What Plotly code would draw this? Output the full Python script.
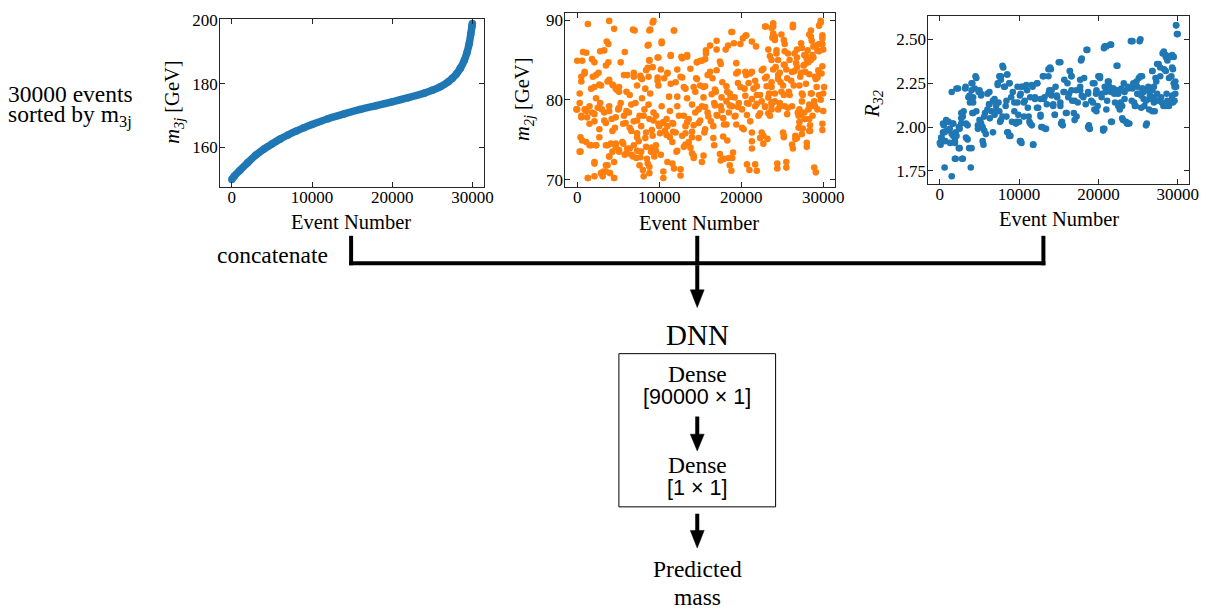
import numpy as np
import plotly.graph_objects as go

W, H = 1222, 611

# ---------------- data ----------------
# sorted three-jet mass curve (event number in thousands, GeV)
m3j_event_k = [0, 0.3, 1, 2, 3, 4, 5, 6, 7, 8, 9, 10, 12, 14, 16, 18, 20, 22, 24, 25,
               26, 27, 27.5, 28, 28.5, 29, 29.3, 29.6, 29.8, 29.95, 30]
m3j_value = [150.0, 151.0, 152.8, 155.3, 157.6, 159.5, 161.1, 162.6, 163.9, 165.1, 166.2,
             167.2, 169.0, 170.5, 171.9, 173.1, 174.3, 175.6, 177.0, 177.9, 179.0, 180.6,
             181.7, 183.0, 184.8, 187.3, 189.5, 192.5, 195.5, 198.0, 198.8]

# two-jet mass per event (event number in thousands, GeV)
m2j_points = [
    (1.3, 89.5), (3.9, 89.9), (4.5, 88.9), (7.0, 88.7), (8.9, 88.8), (9.3, 89.9), (11.8, 88.7),
    (8.7, 86.9), (10.3, 87.3), (3.6, 87.3), (3.8, 87.0), (0.7, 86.0), (1.1, 85.9), (0.6, 84.9),
    (0.0, 84.9), (2.8, 86.1), (3.3, 86.2), (5.8, 86.0), (5.3, 84.7), (1.8, 85.1), (2.1, 84.7),
    (3.5, 84.3), (3.8, 84.7), (8.8, 85.0), (9.8, 85.3), (11.4, 85.6), (12.7, 85.4), (13.4, 85.6),
    (14.6, 84.7), (15.2, 84.9), (15.7, 85.8), (17.0, 86.3), (18.1, 86.3), (18.9, 88.5),
    (19.1, 87.1), (20.2, 87.7), (20.6, 88.1), (21.8, 86.7), (22.9, 89.2), (23.9, 89.2),
    (23.8, 87.8), (24.1, 87.5), (23.3, 86.3), (23.5, 85.5), (25.2, 87.5), (26.3, 89.1),
    (24.3, 85.8), (25.3, 86.1), (26.8, 86.3), (27.4, 86.5), (28.3, 88.2), (28.6, 87.4),
    (28.8, 86.7), (29.7, 89.7), (29.9, 87.7), (30.0, 86.3), (29.5, 86.1), (27.9, 85.5),
    (28.0, 85.1), (26.8, 85.3),
    (0.5, 82.9), (0.9, 83.5), (1.9, 82.9), (2.1, 81.6), (2.9, 81.8), (3.9, 82.5), (4.4, 81.8),
    (4.9, 81.2), (5.1, 81.6), (5.7, 83.1), (6.1, 83.1), (6.9, 82.9), (7.8, 82.7), (8.4, 83.7),
    (8.7, 82.9), (9.2, 84.1), (9.8, 82.4), (10.2, 83.8), (10.6, 82.7), (11.0, 83.3), (11.4, 82.0),
    (12.0, 82.2), (12.6, 82.9), (13.2, 81.4), (13.8, 83.9), (14.2, 81.6), (14.5, 82.7),
    (15.4, 81.6), (15.9, 83.1), (16.5, 82.7), (16.9, 81.0), (17.5, 84.5), (17.7, 82.2),
    (18.3, 81.0), (18.7, 80.4), (19.4, 83.3), (19.9, 81.6), (20.4, 81.4), (20.6, 83.1),
    (21.1, 83.3), (21.5, 81.4), (21.9, 80.6), (22.5, 83.7), (22.9, 82.7), (23.4, 80.8),
    (23.7, 81.6), (24.2, 84.1), (24.5, 83.1), (24.8, 82.2), (25.2, 84.4), (25.6, 82.7),
    (25.8, 81.0), (26.2, 83.5), (26.4, 81.8), (26.8, 84.1), (27.2, 82.9), (27.6, 84.3),
    (27.8, 83.5), (28.2, 84.7), (28.8, 85.3), (29.0, 82.9), (29.4, 83.7), (29.8, 83.3),
    (29.2, 81.6), (30.0, 80.8), (27.4, 80.8), (28.6, 80.8), (25.2, 80.6),
    (0.0, 78.8), (0.3, 79.6), (0.5, 78.0), (0.9, 78.8), (1.2, 77.8), (1.5, 79.2), (1.8, 78.4),
    (2.1, 77.3), (2.3, 80.2), (2.8, 79.6), (3.0, 78.8), (3.3, 78.4), (3.5, 77.1), (3.9, 79.2),
    (4.2, 77.6), (4.6, 76.5), (5.0, 78.8), (5.3, 79.6), (5.7, 78.0), (5.9, 77.1), (6.3, 78.4),
    (6.6, 76.1), (6.9, 77.3), (7.3, 75.3), (7.6, 78.0), (7.8, 76.7), (8.2, 78.8), (8.4, 75.9),
    (8.8, 77.6), (9.2, 75.5), (9.6, 78.0), (10.0, 76.7), (10.4, 77.1), (10.7, 76.1), (11.0, 76.7),
    (11.3, 75.3), (11.6, 77.1), (12.0, 75.9), (12.4, 78.0), (12.8, 75.5), (13.2, 76.7),
    (13.6, 77.6), (14.0, 75.3), (14.4, 78.4), (14.8, 77.1), (15.2, 79.2), (15.5, 75.9),
    (15.9, 78.4), (16.3, 77.3), (16.7, 79.6), (17.1, 78.0), (17.5, 79.2), (17.9, 76.9),
    (18.2, 79.8), (18.5, 78.4), (18.9, 79.2), (19.3, 78.0), (19.7, 79.6), (20.1, 78.8),
    (20.3, 76.3), (20.7, 79.6), (21.1, 77.3), (21.3, 75.9), (21.7, 79.2), (22.1, 78.0),
    (22.5, 79.8), (22.9, 79.2), (23.5, 78.0), (24.1, 79.8), (24.5, 78.8), (24.7, 79.6),
    (25.6, 78.2), (26.2, 79.2), (27.0, 78.0), (27.4, 79.8), (27.8, 77.6), (28.2, 78.8),
    (28.4, 76.1), (28.7, 78.0), (29.0, 79.2), (29.3, 78.8), (30.0, 78.6), (29.9, 76.2),
    (27.0, 76.5), (27.4, 75.7), (26.6, 75.1), (25.2, 75.5), (23.2, 75.1), (22.7, 75.5),
    (18.3, 74.9),
    (0.4, 73.5), (0.6, 74.9), (1.1, 74.7), (1.5, 74.3), (1.3, 70.2), (2.1, 72.2), (2.1, 70.4),
    (2.3, 74.3), (3.1, 70.4), (3.2, 71.0), (3.5, 71.8), (3.7, 74.3), (3.9, 72.9), (4.0, 70.8),
    (4.3, 73.5), (4.5, 70.2), (4.7, 74.5), (5.1, 73.5), (5.5, 74.7), (5.8, 73.1), (6.1, 73.9),
    (6.6, 73.1), (6.9, 74.3), (7.2, 72.7), (7.6, 71.8), (7.8, 73.5), (8.1, 70.4), (8.4, 74.1),
    (8.6, 72.0), (8.8, 70.8), (9.0, 73.5), (9.4, 72.9), (9.6, 74.3), (10.2, 73.1), (10.5, 70.2),
    (11.0, 72.2), (11.6, 74.7), (11.8, 71.4), (12.1, 73.5), (12.6, 70.5), (13.0, 74.1),
    (13.6, 74.7), (14.0, 73.3), (14.2, 72.7), (15.2, 72.2), (16.7, 74.3), (17.5, 72.4),
    (17.9, 72.6), (18.5, 72.7), (18.9, 72.7), (18.8, 71.1), (21.0, 71.2), (21.9, 71.1),
    (21.3, 73.9), (22.7, 74.5), (24.4, 71.4), (25.5, 71.5), (25.2, 75.3), (26.3, 73.9),
    (26.8, 75.2), (28.0, 74.1), (29.1, 70.9), (28.3, 76.1),
    (0.9, 83.3), (2.6, 83.4), (2.3, 83.1), (0.5, 82.3), (1.7, 81.4), (2.7, 81.9), (3.7, 82.3),
    (4.3, 81.9), (4.7, 81.4), (5.1, 81.0), (0.3, 80.8), (6.0, 81.0), (6.4, 80.6), (6.8, 88.8),
    (-0.1, 78.8), (0.5, 77.8), (1.1, 78.6), (1.5, 77.0), (2.1, 78.2), (2.5, 79.0), (2.7, 76.3),
    (3.3, 77.4), (3.9, 78.6), (4.3, 76.1), (4.7, 77.8), (5.1, 79.0), (5.6, 77.0), (6.0, 78.6),
    (6.4, 76.5), (6.6, 79.4), (0.4, 75.3), (0.3, 73.5), (1.7, 74.3), (2.3, 74.3), (2.7, 75.3),
    (3.5, 74.3), (4.1, 74.5), (4.7, 74.1), (5.1, 73.7), (5.6, 74.5), (6.0, 73.3), (6.4, 73.9),
    (6.8, 72.9), (3.9, 72.9), (4.5, 72.2), (3.7, 71.8), (2.1, 72.0), (2.9, 70.8), (3.5, 71.0),
    (1.3, 70.2), (4.5, 70.2),
    (9.2, 89.7), (8.8, 88.7), (11.8, 88.7), (8.6, 86.8), (10.3, 87.1), (8.8, 84.9), (9.9, 85.3),
    (11.4, 85.5), (12.8, 85.2), (13.4, 85.4), (14.6, 84.7), (15.0, 84.9), (6.9, 83.4),
    (7.7, 83.0), (7.9, 82.6), (8.6, 84.0), (9.8, 82.8), (11.0, 83.4), (12.2, 83.8), (12.8, 82.8),
    (14.6, 82.6), (7.3, 81.8), (8.3, 81.4), (8.9, 80.8), (9.9, 81.8), (11.2, 80.4), (12.2, 80.4),
    (13.0, 81.6), (13.4, 80.2), (14.4, 81.0), (15.0, 81.8), (7.1, 79.6), (7.9, 80.2), (8.7, 79.4),
    (9.3, 78.4), (10.3, 79.2), (11.3, 78.6), (12.2, 79.2), (13.0, 78.0), (14.0, 79.4),
    (14.8, 78.8), (7.3, 77.4), (8.1, 78.0), (9.3, 77.4), (9.9, 77.0), (10.5, 77.2), (10.9, 77.6),
    (11.7, 77.0), (13.4, 77.2), (14.2, 76.8), (15.0, 77.4), (7.3, 75.8), (9.1, 76.2),
    (10.1, 75.8), (10.9, 75.6), (11.7, 76.0), (13.2, 75.8), (14.0, 76.0), (14.8, 75.2),
    (7.5, 74.8), (8.3, 75.2), (9.1, 74.0), (7.3, 73.6), (7.7, 72.8), (8.5, 72.6), (9.6, 73.6),
    (12.2, 73.6), (13.2, 74.4), (13.8, 74.0), (14.2, 73.0), (11.6, 72.0), (12.6, 71.3),
    (8.0, 71.2), (8.8, 71.6), (10.5, 71.0),
    (18.8, 88.5), (20.5, 88.0), (23.0, 89.2), (23.7, 89.0), (16.2, 86.8), (17.0, 87.4),
    (18.4, 86.8), (19.9, 87.0), (21.3, 87.3), (15.7, 86.2), (15.6, 85.1), (17.4, 84.8),
    (19.4, 84.6), (16.2, 83.5), (17.0, 83.7), (19.6, 83.5), (20.5, 83.5), (21.3, 83.5),
    (21.7, 82.4), (22.7, 83.9), (23.1, 82.9), (23.7, 85.0), (15.6, 81.7), (16.8, 81.3),
    (18.2, 81.7), (19.6, 82.1), (20.9, 82.1), (21.9, 81.7), (23.1, 81.7), (15.4, 80.3),
    (16.4, 80.7), (17.6, 80.3), (18.6, 80.8), (19.2, 80.3), (20.5, 80.5), (21.3, 80.1),
    (22.3, 80.6), (23.3, 80.3), (15.6, 79.1), (16.8, 79.3), (17.6, 78.7), (18.6, 79.3),
    (19.6, 79.1), (20.9, 79.5), (21.9, 79.5), (22.9, 79.1), (23.7, 79.7), (16.0, 77.9),
    (17.0, 78.1), (17.8, 77.7), (19.2, 77.9), (20.7, 78.1), (22.3, 78.3), (23.3, 78.3),
    (15.6, 76.3), (16.6, 76.7), (18.2, 76.9), (19.4, 76.9), (20.1, 76.5), (22.5, 75.9),
    (22.3, 75.2), (16.6, 75.2), (17.8, 75.4), (21.3, 74.8), (15.4, 73.0), (17.4, 73.2),
    (19.0, 73.4), (18.6, 71.8), (20.7, 71.9), (21.7, 71.9),
    (23.9, 89.6), (26.3, 89.4), (29.7, 89.9), (29.5, 89.3), (28.5, 88.7), (29.9, 88.1),
    (23.9, 88.3), (24.1, 87.9), (24.9, 88.2), (25.3, 87.0), (27.3, 87.1), (28.5, 87.9),
    (29.1, 86.8), (29.5, 87.0), (24.3, 86.2), (25.7, 85.8), (26.5, 85.8), (28.1, 86.2),
    (27.7, 85.6), (28.7, 85.6), (29.3, 86.2), (29.9, 87.0), (24.5, 85.0), (25.3, 84.4),
    (25.9, 85.0), (26.7, 84.6), (27.7, 84.4), (28.5, 85.0), (23.9, 83.8), (24.7, 83.4),
    (25.5, 83.8), (26.5, 83.6), (27.3, 83.4), (28.3, 83.2), (29.5, 83.4), (29.9, 84.2),
    (29.3, 82.8), (23.7, 82.2), (24.5, 82.6), (25.1, 81.8), (26.1, 82.4), (27.1, 81.8),
    (27.9, 82.0), (29.1, 82.6), (30.1, 81.6), (24.1, 80.8), (24.9, 81.0), (25.9, 80.6),
    (27.5, 80.6), (28.5, 80.8), (29.5, 80.6), (23.7, 79.4), (24.7, 79.2), (25.7, 79.0),
    (28.3, 79.4), (28.9, 79.8), (29.7, 80.0), (23.7, 78.8), (25.3, 79.2), (27.1, 78.8),
    (27.7, 78.4), (28.5, 79.2), (26.9, 78.4), (27.3, 78.2), (27.7, 77.6), (28.3, 77.6),
    (27.1, 77.2), (27.5, 76.4), (28.4, 76.8), (29.9, 77.0), (25.1, 75.9), (26.6, 75.5),
    (26.2, 74.4), (28.0, 74.6), (24.4, 72.0), (25.5, 72.2), (28.9, 71.5),
]

# three-to-two jet ratio per event (event number in thousands)
r32_points = [
    (0.1, 1.90), (0.2, 1.94), (0.4, 1.97), (0.5, 2.01), (0.7, 1.92), (0.6, 1.77), (0.9, 1.98),
    (1.1, 2.03), (1.3, 1.91), (1.5, 1.72), (1.5, 2.20), (1.6, 2.02), (1.7, 1.95), (1.9, 1.91),
    (2.0, 1.82), (2.0, 1.97), (2.3, 2.22), (2.4, 2.00), (2.5, 1.88), (2.7, 2.05), (2.9, 1.82),
    (3.0, 2.09), (3.2, 2.22), (3.3, 2.02), (3.5, 1.93), (3.6, 2.17), (3.7, 1.88), (3.8, 2.14),
    (3.9, 1.77), (4.0, 2.25), (4.1, 2.08), (4.2, 2.17), (4.4, 2.22), (4.5, 2.29), (4.8, 2.01),
    (4.9, 2.20), (5.1, 2.04), (5.2, 2.18), (5.5, 1.90), (5.7, 2.08), (5.8, 1.96), (6.0, 2.19),
    (6.2, 2.13), (6.3, 2.05), (6.5, 2.09), (6.7, 1.97), (6.9, 2.16), (7.0, 2.09), (7.3, 2.25),
    (7.4, 2.14), (7.6, 2.03), (7.7, 2.29), (7.9, 2.06), (8.0, 2.34), (8.1, 2.23), (8.3, 2.12),
    (8.4, 2.06), (8.5, 2.30), (8.6, 1.97), (8.8, 2.25), (8.9, 1.95), (9.1, 2.03), (9.2, 2.20),
    (9.4, 2.09), (9.6, 2.02), (9.8, 2.14), (10.1, 2.18), (10.3, 1.91), (10.3, 2.23), (10.6, 2.06),
    (10.7, 2.15), (10.9, 2.24), (11.1, 2.11), (11.3, 2.03), (11.4, 2.17), (11.6, 2.01),
    (11.7, 2.23), (11.8, 1.90), (12.0, 2.16), (12.3, 2.25), (12.4, 2.11), (12.7, 2.06),
    (12.8, 2.00), (13.0, 2.29), (13.2, 2.17), (13.4, 1.99), (13.5, 2.13), (13.7, 2.33),
    (13.8, 2.21), (14.0, 2.33), (14.1, 2.18), (14.3, 2.12), (14.5, 2.07), (14.6, 2.23),
    (14.8, 2.17), (15.0, 2.37), (15.2, 2.14), (15.3, 2.02), (15.5, 2.01), (15.7, 2.27),
    (15.7, 2.20), (15.9, 2.08), (16.1, 2.25), (16.3, 2.19), (16.4, 2.32), (16.6, 2.29),
    (16.7, 2.15), (16.9, 2.08), (17.0, 2.04), (17.2, 2.21), (17.4, 2.14), (17.7, 2.23),
    (17.8, 2.38), (17.9, 2.18), (18.2, 2.28), (18.4, 2.13), (18.6, 2.44), (18.7, 2.20),
    (18.8, 2.01), (18.9, 1.99), (19.1, 2.15), (19.3, 2.25), (19.5, 2.10), (19.7, 2.19),
    (19.9, 2.12), (20.0, 2.29), (20.2, 2.28), (20.4, 2.17), (20.6, 1.98), (20.7, 2.45),
    (20.9, 2.20), (21.1, 2.15), (21.3, 2.26), (21.5, 2.47), (21.6, 2.20), (21.7, 2.03),
    (21.9, 2.22), (22.1, 2.14), (22.3, 2.35), (22.5, 2.19), (22.7, 2.10), (22.9, 2.22),
    (23.1, 2.04), (23.2, 2.25), (23.3, 2.16), (23.6, 2.02), (23.8, 2.22), (23.9, 2.02),
    (24.1, 2.49), (24.2, 2.15), (24.4, 2.25), (24.6, 2.12), (24.8, 2.26), (25.0, 2.19),
    (25.2, 2.49), (25.3, 2.29), (25.6, 2.22), (25.7, 2.16), (25.8, 2.12), (26.0, 2.01),
    (26.3, 2.23), (26.5, 2.18), (26.7, 2.22), (26.8, 2.32), (27.0, 2.14), (27.1, 2.09),
    (27.3, 2.26), (27.5, 2.15), (27.6, 2.36), (27.8, 2.29), (27.9, 2.17), (28.1, 2.42),
    (28.2, 2.12), (28.3, 2.33), (28.5, 2.41), (28.6, 2.19), (28.7, 2.38), (28.9, 2.12),
    (29.0, 2.40), (29.2, 2.29), (29.3, 2.18), (29.4, 2.33), (29.5, 2.40), (29.6, 2.15),
    (29.7, 2.26), (29.8, 2.23), (29.8, 2.58), (30.0, 2.53),
    (0.0, 1.91), (0.2, 1.94), (0.6, 1.97), (0.4, 2.02), (0.8, 2.04), (1.25, 1.99), (1.5, 1.96),
    (1.7, 2.02), (1.9, 1.92), (2.1, 1.95), (2.5, 1.99), (2.7, 2.02), (2.9, 2.06), (2.4, 1.88),
    (1.9, 1.82), (2.8, 1.82), (2.1, 2.22), (3.25, 2.23), (2.7, 2.08), (3.3, 1.94), (4.0, 1.88),
    (3.5, 2.01), (3.75, 2.18), (4.1, 2.25), (4.6, 2.28), (4.2, 2.14), (4.0, 2.21), (5.0, 2.21),
    (5.2, 2.19), (4.6, 2.09), (4.2, 2.08), (5.0, 2.04), (5.2, 2.02), (4.8, 1.99), (5.4, 2.00),
    (5.6, 2.06), (5.4, 1.92), (6.0, 2.10), (6.25, 2.20), (6.25, 2.13), (6.7, 2.15), (7.1, 2.12),
    (6.9, 2.07), (7.5, 2.09), (7.3, 2.24), (7.5, 2.29), (7.9, 2.35), (7.7, 2.27), (8.5, 2.30),
    (8.75, 2.25), (8.2, 2.23), (8.4, 2.15), (7.7, 2.04), (8.5, 1.97), (8.75, 1.95), (9.0, 2.17),
    (9.4, 2.14), (9.7, 2.03), (9.9, 2.07), (10.1, 1.92), (9.8, 2.23), (5.6, 1.98),
    (10.2, 1.92), (11.75, 1.90), (10.0, 2.03), (11.4, 2.02), (11.2, 2.06), (12.9, 2.00),
    (13.3, 1.99), (12.7, 2.07), (12.25, 2.11), (10.6, 2.14), (10.2, 2.19), (11.0, 2.21),
    (10.4, 2.23), (11.6, 2.24), (12.25, 2.25), (12.0, 2.17), (13.1, 2.16), (13.7, 2.19),
    (14.1, 2.21), (14.75, 2.18), (14.3, 2.13), (15.2, 2.12), (15.6, 2.20), (16.2, 2.17),
    (16.6, 2.21), (17.0, 2.15), (17.7, 2.21), (18.1, 2.17), (18.7, 2.19), (19.3, 2.14),
    (19.75, 2.21), (20.4, 2.19), (20.8, 2.23), (13.1, 2.29), (13.7, 2.29), (13.9, 2.34),
    (15.2, 2.37), (16.4, 2.32), (16.6, 2.29), (17.7, 2.27), (17.9, 2.39), (18.5, 2.44),
    (19.5, 2.25), (20.2, 2.29), (20.8, 2.46), (14.5, 2.07), (15.4, 2.03), (16.0, 2.08),
    (17.25, 2.06), (18.7, 2.00), (18.9, 1.99), (19.75, 2.09), (20.6, 1.99), (12.7, 2.16),
    (29.8, 2.58), (29.9, 2.53), (24.3, 2.49), (25.3, 2.50), (21.0, 2.46), (21.6, 2.47),
    (22.4, 2.35), (28.25, 2.43), (28.5, 2.40), (28.9, 2.40), (29.3, 2.41), (27.4, 2.36),
    (27.8, 2.34), (28.5, 2.32), (29.3, 2.34), (28.9, 2.28), (29.5, 2.25), (29.6, 2.23),
    (29.7, 2.19), (26.8, 2.32), (25.1, 2.28), (25.5, 2.29), (27.2, 2.28), (27.0, 2.23),
    (21.2, 2.26), (21.4, 2.23), (21.8, 2.22), (22.4, 2.21), (23.0, 2.21), (23.7, 2.23),
    (24.3, 2.22), (24.9, 2.23), (25.5, 2.22), (26.2, 2.21), (26.8, 2.21), (27.4, 2.19),
    (21.0, 2.21), (22.0, 2.19), (23.3, 2.20), (24.9, 2.19), (25.7, 2.20), (26.4, 2.16),
    (27.0, 2.17), (28.0, 2.14), (28.7, 2.15), (29.3, 2.16), (29.4, 2.14), (28.5, 2.12),
    (22.8, 2.14), (23.0, 2.12), (24.5, 2.14), (24.7, 2.12), (25.4, 2.18), (26.0, 2.15),
    (26.4, 2.10), (26.8, 2.09), (21.0, 2.10), (22.5, 2.12), (25.4, 2.11), (21.6, 2.03),
    (23.0, 2.05), (23.5, 2.03), (23.7, 2.02), (26.1, 2.02), (20.75, 1.99),
]

x_ticks = [0, 10000, 20000, 30000]
x_tick_text = ["0", "10000", "20000", "30000"]
m3j_ticks = [160, 180, 200]
m2j_ticks = [70, 80, 90]
r32_ticks = [1.75, 2.00, 2.25, 2.50]
r32_tick_text = ["1.75", "2.00", "2.25", "2.50"]

BLUE = "#1f77b4"
ORANGE = "#ff7f0e"
SERIF = "Liberation Serif, Times New Roman, serif"
SANS = "Liberation Sans, Arial, sans-serif"


def px(x):
    return x / W


def py(y):
    return 1 - y / H


fig = go.Figure()

# panel 1: sorted m3j
x1 = np.array(m3j_event_k) * 1000
fig.add_trace(go.Scatter(
    x=x1, y=m3j_value, mode="lines+markers",
    line=dict(color=BLUE, width=7.5, shape="spline", smoothing=0.6),
    marker=dict(color=BLUE, size=7.5),
    xaxis="x", yaxis="y", showlegend=False, hoverinfo="skip"))

# panel 2: m2j
e2 = np.array([p[0] for p in m2j_points]) * 1000
v2 = [p[1] for p in m2j_points]
fig.add_trace(go.Scatter(
    x=e2, y=v2, mode="markers",
    marker=dict(color=ORANGE, size=6.6, line=dict(width=0)),
    xaxis="x2", yaxis="y2", showlegend=False, hoverinfo="skip"))

# panel 3: R32
e3 = np.array([p[0] for p in r32_points]) * 1000
v3 = [p[1] for p in r32_points]
fig.add_trace(go.Scatter(
    x=e3, y=v3, mode="markers",
    marker=dict(color=BLUE, size=6.6, line=dict(width=0)),
    xaxis="x3", yaxis="y3", showlegend=False, hoverinfo="skip"))

axis_style = dict(
    showgrid=False, zeroline=False, showline=True, linecolor="#262626", linewidth=1.1,
    mirror="ticks", ticks="inside", ticklen=5, tickwidth=1, tickcolor="#262626",
    tickfont=dict(family=SERIF, size=17, color="black"),
)

panels = [
    # (x domain px, y domain px, y range, y ticks, y tick text)
    ((222, 488), (11, 182), [147.7, 200.3], m3j_ticks, [str(t) for t in m3j_ticks]),
    ((570, 842), (5, 182), [69.1, 90.9], m2j_ticks, [str(t) for t in m2j_ticks]),
    ((936, 1199), (8, 179), [1.677, 2.634], r32_ticks, r32_tick_text),
]

layout_axes = {}
for i, (xd, yd, yr, yt, ytt) in enumerate(panels):
    sfx = "" if i == 0 else str(i + 1)
    layout_axes["xaxis" + sfx] = dict(
        axis_style, domain=[px(xd[0]), px(xd[1])], range=[-1450, 31450],
        tickvals=x_ticks, ticktext=x_tick_text, anchor="y" + sfx, ticklabelstandoff=-5)
    layout_axes["yaxis" + sfx] = dict(
        axis_style, domain=[py(yd[1]), py(yd[0])], range=yr,
        tickvals=yt, ticktext=ytt, anchor="x" + sfx, ticklabelstandoff=-2)

annotations = []


def text(x, y, s, size, family=SERIF, xanchor="center", angle=0):
    annotations.append(dict(
        x=px(x), y=py(y), xref="paper", yref="paper", text=s, showarrow=False,
        xanchor=xanchor, yanchor="middle", textangle=angle,
        font=dict(family=family, size=size, color="black")))


# axis labels
text(354, 218, "Event Number", 20.5)
text(705, 219, "Event Number", 20.5)
text(1068, 215, "Event Number", 20.5)
text(175, 96, "<i>m</i><sub><i>3j</i></sub> [GeV]", 20.5, angle=-90)
text(528, 93, "<i>m</i><sub><i>2j</i></sub> [GeV]", 20.5, angle=-90)
text(880, 98, "<i>R</i><sub><i>32</i></sub>", 20.5, angle=-90)

# diagram labels
text(6, 88, "30000 events", 23.5, xanchor="left")
text(6, 110, "sorted by m<sub>3j</sub>", 23.5, xanchor="left")
text(275, 252, "concatenate", 23.5)
text(703, 333, "DNN", 29)
text(703, 373, "Dense", 23.5)
text(703, 396, "[90000 × 1]", 21.5, family=SANS)
text(703, 465, "Dense", 23.5)
text(703, 489, "[1 × 1]", 21.5, family=SANS)
text(703, 571, "Predicted", 23.5)
text(703, 600, "mass", 23.5)

shapes = []
LW = 4


def hline(x0, x1, y, w=LW):
    shapes.append(dict(type="line", xref="paper", yref="paper",
                       x0=px(x0), x1=px(x1), y0=py(y), y1=py(y),
                       line=dict(color="black", width=w)))


def vline(x, y0, y1, w=LW):
    shapes.append(dict(type="line", xref="paper", yref="paper",
                       x0=px(x), x1=px(x), y0=py(y0), y1=py(y1),
                       line=dict(color="black", width=w)))


def arrow(x, y0, y_head, y_tip, half_w):
    vline(x, y0, y_head + 1)
    path = (f"M {px(x - half_w)},{py(y_head)} L {px(x + half_w)},{py(y_head)} "
            f"L {px(x)},{py(y_tip)} Z")
    shapes.append(dict(type="path", xref="paper", yref="paper", path=path,
                       fillcolor="black", line=dict(color="black", width=0.5)))


# concatenation bracket
for xv in (354, 703, 1052):
    vline(xv, 232, 262)
hline(352, 1054, 260)
arrow(703, 262, 287, 305, 7)

# DNN box and inner arrows
shapes.append(dict(type="rect", xref="paper", yref="paper",
                   x0=px(624), x1=px(782), y0=py(508), y1=py(352),
                   line=dict(color="black", width=1)))
arrow(703, 416, 434, 451, 7)
arrow(703, 515, 532, 550, 7)

fig.update_layout(
    width=W, height=H, margin=dict(l=0, r=0, t=0, b=0),
    paper_bgcolor="white", plot_bgcolor="white",
    annotations=annotations, shapes=shapes, **layout_axes)

fig.write_html("out.html")
